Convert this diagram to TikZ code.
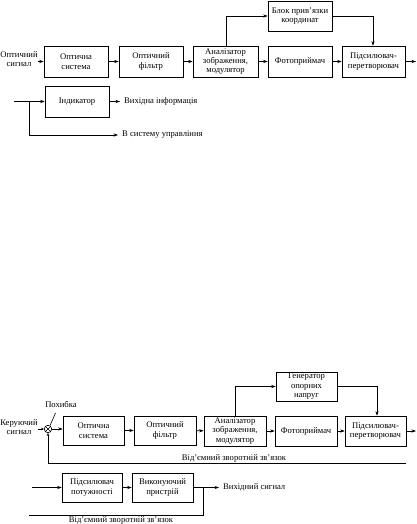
\documentclass[tikz,border=0pt]{standalone}
\usepackage{fontspec}
\setmainfont{Liberation Serif}
\usetikzlibrary{arrows.meta}
\begin{document}
\begin{tikzpicture}[x=1pt,y=-1pt,
  blk/.style={draw,line width=0.6pt,minimum height=31pt,inner sep=0pt,align=center,font=\fontsize{8.6}{9.4}\selectfont},
  lbl/.style={inner sep=0pt,align=center,font=\fontsize{8.6}{9.4}\selectfont},
  olbl/.style={lbl,anchor=west,inner xsep=4pt},
  ln/.style={line width=0.6pt},
  ar/.style={line width=0.6pt,-{Stealth[length=4.5pt,width=3.2pt]}},
  sar/.style={line width=0.6pt,-{Stealth[length=3pt,width=2.6pt]}}]
\useasboundingbox (0,0) rectangle (416,524);
% ---------- top diagram
\node[lbl] (insig) at (19,59) {Оптичний\\сигнал};
\node[blk,minimum width=64pt] (os1) at (76,61.5) {Оптична\\система};
\node[blk,minimum width=64pt] (of1) at (151,61.5) {Оптичний\\фільтр};
\node[blk,minimum width=65pt] (an1) at (225.5,61.5) {Аналізатор\\зображення,\\модулятор};
\node[blk,minimum width=64pt] (ph1) at (300,61.5) {Фотоприймач};
\node[blk,minimum width=63pt] (am1) at (373.5,61.5) {Підсилювач-\\перетворювач};
\node[blk,minimum width=64pt,minimum height=30pt] (bl1) at (300,16) {Блок прив’язки\\координат};
\coordinate (o1) at (416,61.5);
\draw[ar] (insig.east |- os1.west) -- (os1.west);
\draw[ar] (os1) -- (of1);
\draw[ar] (of1) -- (an1);
\draw[ar] (an1) -- (ph1);
\draw[ar] (ph1) -- (am1);
\draw[ar] (am1) -- (o1);
\draw[ar] (226,0 |- an1.north) |- (bl1.west);
\draw[ar] (bl1.east) -| (373,0 |- am1.north);
% indicator
\node[blk,minimum width=64pt] (ind) at (77,101.5) {Індикатор};
\coordinate (iin) at (14,101.5);
\coordinate (ibr) at (29,101.5);
\node[olbl] (vyh) at (120,101.5) {Вихідна інформація};
\node[olbl] (vsys) at (118,135) {В систему управління};
\draw[ar] (iin) -- (ind.west);
\draw[ar] (ind.east) -- (vyh.west);
\draw[ar] (ibr) |- (vsys.west);
% ---------- bottom diagram
\node[lbl] (ksig) at (19,427) {Керуючий\\сигнал};
\node[draw,circle,line width=0.6pt,minimum size=7.5pt,inner sep=0pt] (c) at (48,429) {};
\draw[line width=0.45pt] (c.45) -- (c.225) (c.135) -- (c.315);
\node[lbl] (poh) at (61,404) {Похибка};
\draw[ln] (c.60) -- (55.5,413);
\node[blk,minimum width=61pt,minimum height=29pt] (os2) at (93.5,430.5) {Оптична\\система};
\node[blk,minimum width=62pt,minimum height=29pt] (of2) at (165,430.5) {Оптичний\\фільтр};
\node[blk,minimum width=62pt,minimum height=30pt] (an2) at (235,431) {Аналізатор\\зображення,\\модулятор};
\node[blk,minimum width=62pt,minimum height=30pt] (ph2) at (306,431) {Фотоприймач};
\node[blk,minimum width=61pt,minimum height=30pt] (am2) at (375.5,431) {Підсилювач-\\перетворювач};
\node[blk,minimum width=61pt,minimum height=29pt] (gen) at (306.5,386.5) {Генератор\\опорних\\напруг};
\coordinate (o2) at (416,431);
\draw[sar] (ksig.east |- c.west) -- (c.west);
\draw[ar] (c.east) -- (os2.west |- c.east);
\draw[ar] (os2) -- (of2);
\draw[ar] (of2) -- (an2);
\draw[ar] (an2) -- (ph2);
\draw[ar] (ph2) -- (am2);
\draw[ar] (am2) -- (o2);
\draw[ar] (235,0 |- an2.north) |- (gen.west);
\draw[ar] (gen.east) -| (377,0 |- am2.north);
\coordinate (fb1) at (406,463);
\draw[sar] (fb1) -| (c.south);
\node[lbl] (fbl1) at (234,458) {Від’ємний зворотній зв’язок};
% lower chain
\node[blk,minimum width=60pt,minimum height=29pt] (pp) at (92,487.5) {Підсилювач\\потужності};
\node[blk,minimum width=61pt,minimum height=29pt] (vp) at (162.5,487.5) {Виконуючий\\пристрій};
\coordinate (pin) at (32,487.5);
\coordinate (vbr) at (203,487.5);
\coordinate (fbend) at (29,515);
\node[olbl] (vsig) at (219,487.5) {Вихідний сигнал};
\draw[ar] (pin) -- (pp.west);
\draw[ar] (pp) -- (vp);
\draw[ar] (vp.east) -- (vsig.west);
\draw[ln] (vbr) |- (fbend);
\node[lbl] (fbl2) at (121,520) {Від’ємний зворотній зв’язок};
\end{tikzpicture}
\end{document}
